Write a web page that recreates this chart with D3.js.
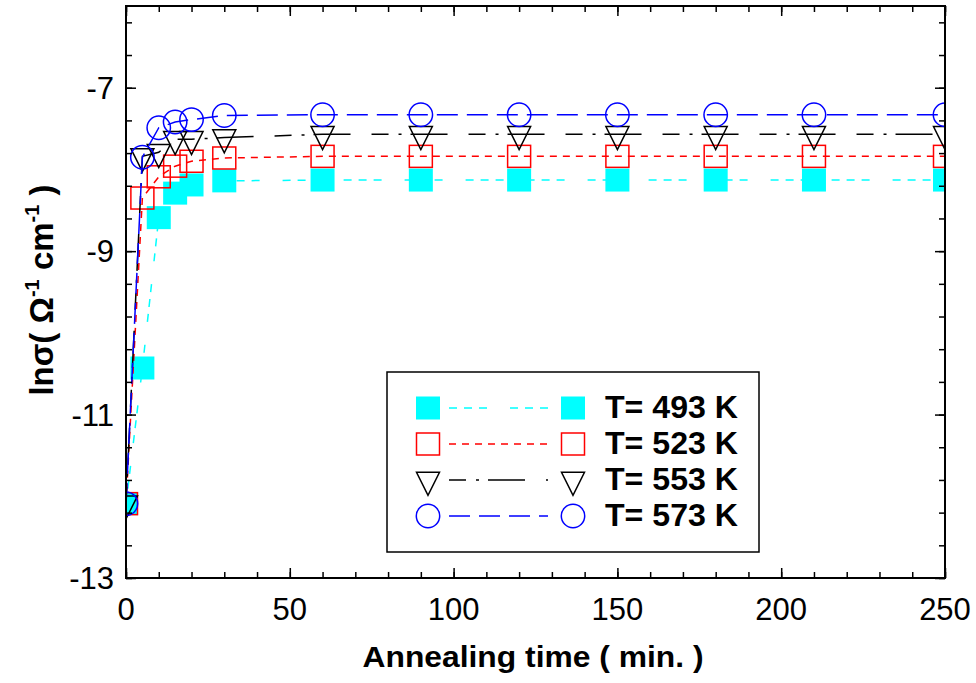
<!DOCTYPE html>
<html>
<head>
<meta charset="utf-8">
<script src="https://cdnjs.cloudflare.com/ajax/libs/d3/7.8.5/d3.min.js"></script>
<style>
    body { margin: 0; background: #fff; }
    svg { display: block; font-family: "Liberation Sans", Arial, sans-serif; }
</style>
</head>
<body>
<svg id="chart" width="976" height="683"></svg>
<script>
var times = [0, 5, 10, 15, 20, 30, 60, 90, 120, 150, 180, 210, 250];
var t493 = [-12.09, -10.43, -8.59, -8.29, -8.19, -8.14, -8.13, -8.13, -8.13, -8.13, -8.13, -8.13, -8.13];
var t523 = [-12.09, -8.35, -8.09, -7.96, -7.90, -7.86, -7.84, -7.84, -7.84, -7.84, -7.84, -7.84, -7.84];
var t553 = [-12.09, -7.84, -7.79, -7.63, -7.63, -7.61, -7.57, -7.57, -7.57, -7.57, -7.57, -7.57, -7.57];
var t573 = [-12.09, -7.85, -7.49, -7.42, -7.39, -7.34, -7.33, -7.33, -7.33, -7.33, -7.33, -7.33, -7.33];
var legendLabels = ["T= 493 K", "T= 523 K", "T= 553 K", "T= 573 K"];
var xTicks = [0, 50, 100, 150, 200, 250];
var yTicks = [-13, -11, -9, -7];

var pLeft = 126, pRight = 945, pTop = 6, pBottom = 578;

var x = d3.scaleLinear().domain([0, 250]).range([pLeft, pRight]);
var y = d3.scaleLinear().domain([-13, -6]).range([pBottom, pTop]);

var svg = d3.select("#chart");

svg.append("clipPath").attr("id", "plotClip")
    .append("rect")
    .attr("x", pLeft).attr("y", pTop)
    .attr("width", pRight - pLeft).attr("height", pBottom - pTop);

//marker shapes
function drawMarker(g, type, cx, cy) {
    if (type === "fillSquare") {
        g.append("rect").attr("x", cx - 12).attr("y", cy - 11.5)
            .attr("width", 24).attr("height", 23).attr("fill", "#00ffff");
    } else if (type === "square") {
        g.append("rect").attr("x", cx - 11.5).attr("y", cy - 11)
            .attr("width", 23).attr("height", 22)
            .attr("fill", "none").attr("stroke", "#ff0000").attr("stroke-width", 1.5);
    } else if (type === "triangle") {
        g.append("path")
            .attr("d", "M" + (cx - 11.5) + "," + (cy - 7.7) + "L" + (cx + 11.5) + "," + (cy - 7.7) +
                "L" + cx + "," + (cy + 15.3) + "Z")
            .attr("fill", "none").attr("stroke", "#000").attr("stroke-width", 1.5);
    } else {
        g.append("circle").attr("cx", cx).attr("cy", cy).attr("r", 11.7)
            .attr("fill", "none").attr("stroke", "#0000ff").attr("stroke-width", 1.5);
    }
}

var series = [
    { values: t493, color: "#00ffff", dash: "8,7,8,7,8,23", marker: "fillSquare" },
    { values: t523, color: "#ff0000", dash: "7,6", marker: "square" },
    { values: t553, color: "#000000", dash: "17,10,3,9,37,21", marker: "triangle" },
    { values: t573, color: "#0000ff", dash: "21,9", marker: "circle" }
];

var plot = svg.append("g").attr("clip-path", "url(#plotClip)");

var line = d3.line()
    .x(function(d) { return x(d[0]); })
    .y(function(d) { return y(d[1]); });

series.forEach(function(s) {
    var pts = times.map(function(t, i) { return [t, s.values[i]]; });
    plot.append("path")
        .attr("d", line(pts))
        .attr("fill", "none")
        .attr("stroke", s.color)
        .attr("stroke-width", 1.5)
        .attr("stroke-dasharray", s.dash);
    var mg = plot.append("g");
    pts.forEach(function(p) {
        drawMarker(mg, s.marker, x(p[0]), y(p[1]));
    });
});

//Axes - ticks inward on all four sides
var axisStyle = function(g) {
    g.select(".domain").remove();
    g.selectAll("line").attr("stroke", "#000").attr("stroke-width", 1.5);
};

var xMinor = d3.range(0, 251, 10);
var yMinor = d3.range(-13, -5.99, 0.4);

svg.append("g").attr("transform", "translate(0," + pBottom + ")")
    .call(d3.axisTop(x).tickValues(xMinor).tickSize(6).tickFormat(""))
    .call(axisStyle);
svg.append("g").attr("transform", "translate(0," + pBottom + ")")
    .call(d3.axisTop(x).tickValues(xTicks).tickSize(10).tickFormat(""))
    .call(axisStyle);
svg.append("g").attr("transform", "translate(0," + pTop + ")")
    .call(d3.axisBottom(x).tickValues(xMinor).tickSize(6).tickFormat(""))
    .call(axisStyle);
svg.append("g").attr("transform", "translate(0," + pTop + ")")
    .call(d3.axisBottom(x).tickValues(xTicks).tickSize(10).tickFormat(""))
    .call(axisStyle);
svg.append("g").attr("transform", "translate(" + pLeft + ",0)")
    .call(d3.axisRight(y).tickValues(yMinor).tickSize(6).tickFormat(""))
    .call(axisStyle);
svg.append("g").attr("transform", "translate(" + pLeft + ",0)")
    .call(d3.axisRight(y).tickValues(yTicks).tickSize(10).tickFormat(""))
    .call(axisStyle);
svg.append("g").attr("transform", "translate(" + pRight + ",0)")
    .call(d3.axisLeft(y).tickValues(yMinor).tickSize(6).tickFormat(""))
    .call(axisStyle);
svg.append("g").attr("transform", "translate(" + pRight + ",0)")
    .call(d3.axisLeft(y).tickValues(yTicks).tickSize(10).tickFormat(""))
    .call(axisStyle);

svg.append("rect")
    .attr("x", pLeft).attr("y", pTop)
    .attr("width", pRight - pLeft).attr("height", pBottom - pTop)
    .attr("fill", "none").attr("stroke", "#000").attr("stroke-width", 2);

//tick labels
svg.selectAll(".xlab").data(xTicks).enter().append("text")
    .attr("x", function(d) { return x(d); })
    .attr("y", 620)
    .attr("text-anchor", "middle")
    .style("font-size", "31px")
    .text(function(d) { return d; });

svg.selectAll(".ylab").data(yTicks).enter().append("text")
    .attr("x", 114)
    .attr("y", function(d) { return y(d) + 11; })
    .attr("text-anchor", "end")
    .style("font-size", "31px")
    .text(function(d) { return d; });

//axis titles
svg.append("text")
    .attr("x", 533).attr("y", 667)
    .attr("text-anchor", "middle")
    .style("font-size", "29px").style("font-weight", "bold")
    .attr("textLength", 341).attr("lengthAdjust", "spacingAndGlyphs")
    .text("Annealing time ( min. )");

var yt = svg.append("text")
    .attr("transform", "translate(53,290) rotate(-90)")
    .attr("text-anchor", "middle")
    .style("font-size", "33px").style("font-weight", "bold");
yt.append("tspan").text("lnσ( Ω");
yt.append("tspan").attr("dy", -14).style("font-size", "20px").text("-1");
yt.append("tspan").attr("dy", 14).text(" cm");
yt.append("tspan").attr("dy", -14).style("font-size", "20px").text("-1");
yt.append("tspan").attr("dy", 14).text(" )");

//Legend
svg.append("rect")
    .attr("x", 387).attr("y", 372).attr("width", 372).attr("height", 180)
    .attr("fill", "#fff").attr("stroke", "#000").attr("stroke-width", 1.5);

var legend = svg.append("g");
series.forEach(function(s, i) {
    var ry = 408 + i * 36;
    legend.append("line")
        .attr("x1", 449).attr("x2", 548).attr("y1", ry).attr("y2", ry)
        .attr("stroke", s.color).attr("stroke-width", 1.5)
        .attr("stroke-dasharray", s.dash);
    drawMarker(legend, s.marker, 428, ry);
    drawMarker(legend, s.marker, 573, ry);
    legend.append("text")
        .attr("x", 605).attr("y", ry + 10)
        .style("font-size", "31px").style("font-weight", "bold")
        .attr("textLength", 133).attr("lengthAdjust", "spacingAndGlyphs")
        .text(legendLabels[i]);
});
</script>
</body>
</html>
